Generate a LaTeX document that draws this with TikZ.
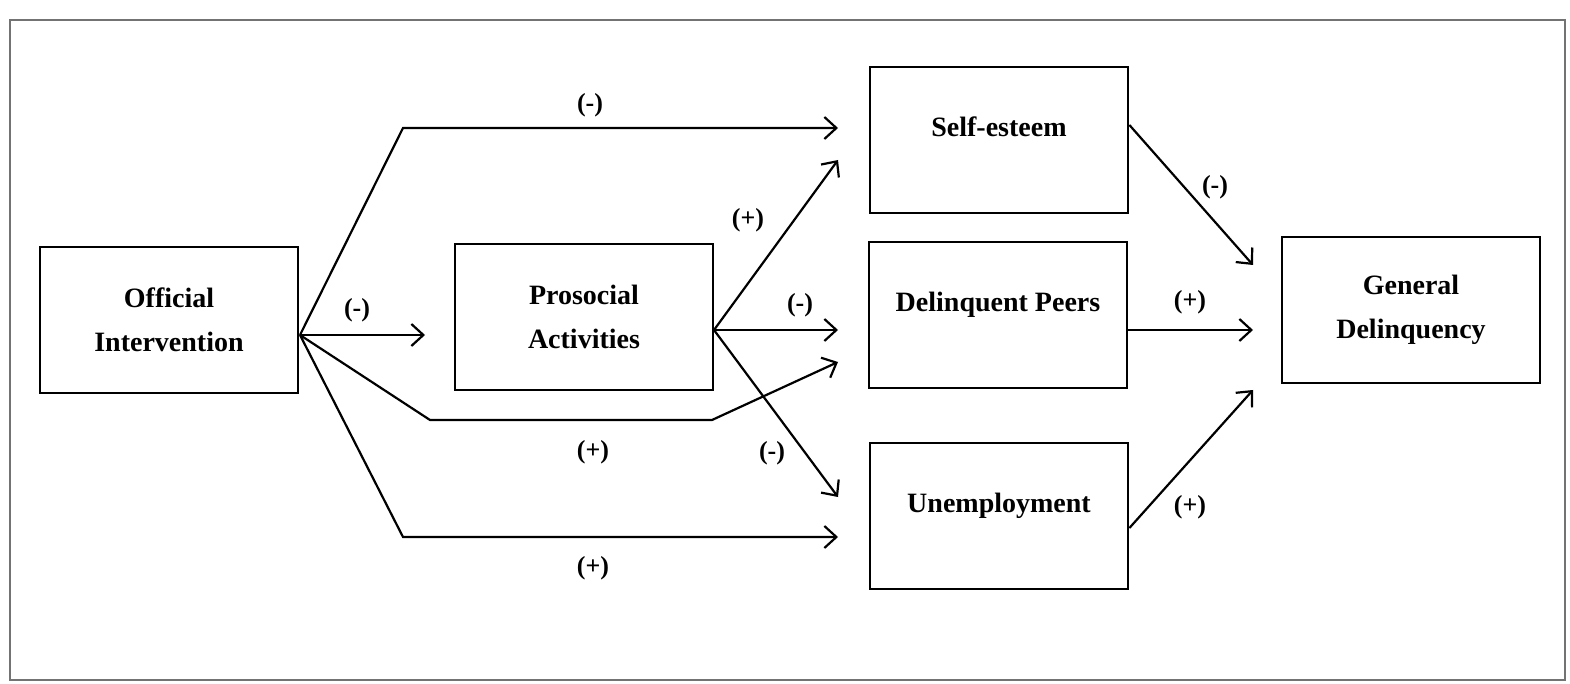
\documentclass[tikz,border=0pt]{standalone}
\usepackage{fontspec}
\setmainfont{Liberation Serif}
\usetikzlibrary{arrows.meta,calc}
\begin{document}
\begin{tikzpicture}[x=0.5pt,y=-0.5pt,
  box/.style={draw,line width=1.4pt,minimum width=129pt,minimum height=73pt,align=center,font=\bfseries\fontsize{14}{22}\selectfont,inner sep=0pt},
  upper/.style={text depth=13pt},
  conn/.style={line width=1.1pt,-{Straight Barb[length=6pt,width=11pt,line width=1.1pt]}},
  lab/.style={font=\bfseries\fontsize{13}{15}\selectfont}]
\useasboundingbox (0,0) rectangle (1570,684);
\draw[line width=1.2pt,black!55] (10,20) rectangle (1565,680);
\node[box] (oi) at (169,320) {Official\\Intervention};
\node[box] (pa) at (584,317) {Prosocial\\Activities};
\node[box,upper] (se) at (999,140) {Self-esteem};
\node[box,upper] (dp) at (998,315) {Delinquent Peers};
\node[box,upper] (un) at (999,516) {Unemployment};
\node[box] (gd) at (1411,310) {General\\Delinquency};
% fan-out points
\coordinate (oo) at (300,335);
\coordinate (po) at (714,330);
% tips
\coordinate (t1) at (838,128);
\coordinate (t2) at (425,335);
\coordinate (t3) at (838,362);
\coordinate (t4) at (838,537);
\coordinate (t5) at (838,160);
\coordinate (t6) at (838,330);
\coordinate (t7) at (838,497);
\coordinate (t8) at (1253,265);
\coordinate (t9) at (1253,330);
\coordinate (t10) at (1253,390);
\draw[conn] (oo) -- (403,128) -- (t1);
\draw[conn] (oo) -- (t2);
\draw[conn] (oo) -- (430,420) -- (712,420) -- (t3);
\draw[conn] (oo) -- (403,537) -- (t4);
\draw[conn] (po) -- (t5);
\draw[conn] (po) -- (t6);
\draw[conn] (po) -- (t7);
\draw[conn] (se.east |- 0,125) -- (t8);
\draw[conn] (dp.east |- 0,330) -- (t9);
\draw[conn] (un.east |- 0,528) -- (t10);
\node[lab] (l1) at (590,105) {(-)};
\node[lab] (l2) at (357,310) {(-)};
\node[lab] (l3) at (593,452) {(+)};
\node[lab] (l4) at (593,568) {(+)};
\node[lab] (l5) at (748,220) {(+)};
\node[lab] (l6) at (800,305) {(-)};
\node[lab] (l7) at (772,453) {(-)};
\node[lab] (l8) at (1215,187) {(-)};
\node[lab] (l9) at (1190,302) {(+)};
\node[lab] (l10) at (1190,507) {(+)};
\end{tikzpicture}
\end{document}
